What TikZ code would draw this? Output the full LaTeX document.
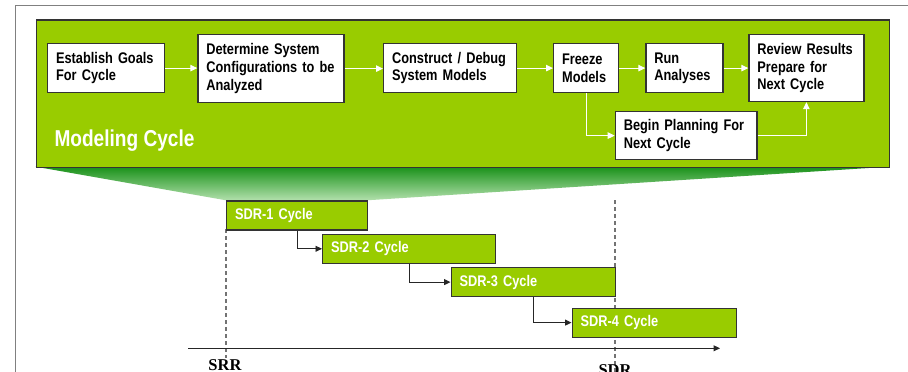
\documentclass[tikz,border=0pt]{standalone}
\usepackage{fontspec}
\setmainfont{Liberation Sans}[FakeStretch=0.83]
\newfontfamily\labelserif{Liberation Serif}
\usetikzlibrary{arrows.meta,calc}
\definecolor{lime}{HTML}{99CC00}
\definecolor{boxedge}{HTML}{333333}
\definecolor{framegray}{HTML}{808080}
\definecolor{gradtop}{RGB}{25,145,25}
\definecolor{gradbot}{RGB}{178,224,172}
\tikzset{
  panelbox/.style={draw=boxedge, line width=1.3pt, fill=lime, inner sep=0pt, anchor=north west},
  wbox/.style={draw=boxedge, line width=1.2pt, fill=white, anchor=north west,
     inner xsep=8.5pt, inner ysep=0pt, align=left,
     font=\bfseries\fontsize{15.4pt}{17.6pt}\selectfont},
  sdrbox/.style={draw=boxedge, line width=1.2pt, fill=lime, anchor=north west, text=white,
     inner xsep=8.5pt, inner ysep=0pt, align=left,
     font=\bfseries\fontsize{15.4pt}{17.6pt}\selectfont},
  warrow/.style={draw=white, line width=1pt, -{Triangle[length=7pt,width=6.5pt]}},
  barrow/.style={draw=black!85, line width=0.9pt, -{Triangle[length=6.5pt,width=6pt]}},
  guide/.style={draw=black!55, line width=1.3pt, dash pattern=on 4pt off 3pt},
  milestone/.style={font=\labelserif\bfseries\fontsize{16.5pt}{18pt}\selectfont, inner sep=0pt, anchor=base}
}
\begin{document}
\begin{tikzpicture}[x=1pt,y=-1pt]
\useasboundingbox (0,0) rectangle (908,372);
\fill[white] (0,0) rectangle (908,372);
% outer frame
\draw[framegray, line width=1.3pt] (15.7,372) -- (15.7,5.7) -- (908,5.7);
% gradient projection
\shade[top color=gradtop, bottom color=gradbot] (35.7,166.7) -- (888.9,166.7) -- (367,200.3) -- (226,200.3) -- cycle;
% panel
\node[panelbox, minimum width=853.2pt, minimum height=147.4pt] (panel) at (35.7,19.3) {};
\node[anchor=base west, inner sep=0pt, text=white, font=\bfseries\fontsize{23pt}{26pt}\selectfont] (title) at (54.3,146.7) {Modeling Cycle};
% process boxes
\node[wbox, text width=100pt, minimum height=49pt] (goals) at (47,43) {Establish Goals\\For Cycle};
\node[wbox, text width=129pt, minimum height=68pt] (config) at (197.3,34) {Determine System\\Configurations to be\\Analyzed};
\node[wbox, text width=116pt, minimum height=49pt] (construct) at (383,43) {Construct / Debug\\System Models};
\node[wbox, text width=48pt, minimum height=49pt] (freeze) at (553,43) {Freeze\\Models};
\node[wbox, text width=60pt, minimum height=49pt] (run) at (645.3,43) {Run\\Analyses};
\node[wbox, text width=98pt, minimum height=67pt] (review) at (748.3,34) {Review Results\\Prepare for\\Next Cycle};
\node[wbox, text width=124.7pt, minimum height=48pt] (plan) at (614.7,111) {Begin Planning For\\Next Cycle};
% white arrows
\draw[warrow] (goals.east) -- (goals.east -| config.west);
\draw[warrow] (config.east) -- (config.east -| construct.west);
\draw[warrow] (construct.east) -- (construct.east -| freeze.west);
\draw[warrow] (freeze.east) -- (freeze.east -| run.west);
\draw[warrow] (run.east) -- (run.east -| review.west);
\draw[warrow] (freeze.south) |- (plan.west);
\draw[warrow] (plan.east) -| (review.south);
% milestone guides
\coordinate (srrtop) at (226,229);
\coordinate (srrbot) at (226,358);
\coordinate (sdrtop) at (615,200);
\coordinate (sdrbot) at (615,372);
\draw[guide] (srrtop) -- (srrbot);
\draw[guide] (sdrtop) -- (sdrbot);
% axis
\coordinate (axstart) at (188,348.3);
\coordinate (axend) at (720,348.3);
\draw[barrow, line width=1pt] (axstart) -- (axend);
% SDR cycle boxes
\node[sdrbox, text width=124pt, minimum height=29pt] (sdr1) at (226,200.3) {SDR-1 Cycle};
\node[sdrbox, text width=156pt, minimum height=29pt] (sdr2) at (322,233.7) {SDR-2 Cycle};
\node[sdrbox, text width=147pt, minimum height=29pt] (sdr3) at (450.5,267) {SDR-3 Cycle};
\node[sdrbox, text width=147pt, minimum height=29pt] (sdr4) at (571.5,307.5) {SDR-4 Cycle};
\draw[barrow] (sdr1.south) |- (sdr2.west);
\draw[barrow] (sdr2.south) |- (sdr3.west);
\draw[barrow] (sdr3.south) |- (sdr4.west);
% labels
\node[milestone] (srr) at (225,370) {SRR};
\node[milestone] (sdr) at (615,375) {SDR};
\end{tikzpicture}
\end{document}
